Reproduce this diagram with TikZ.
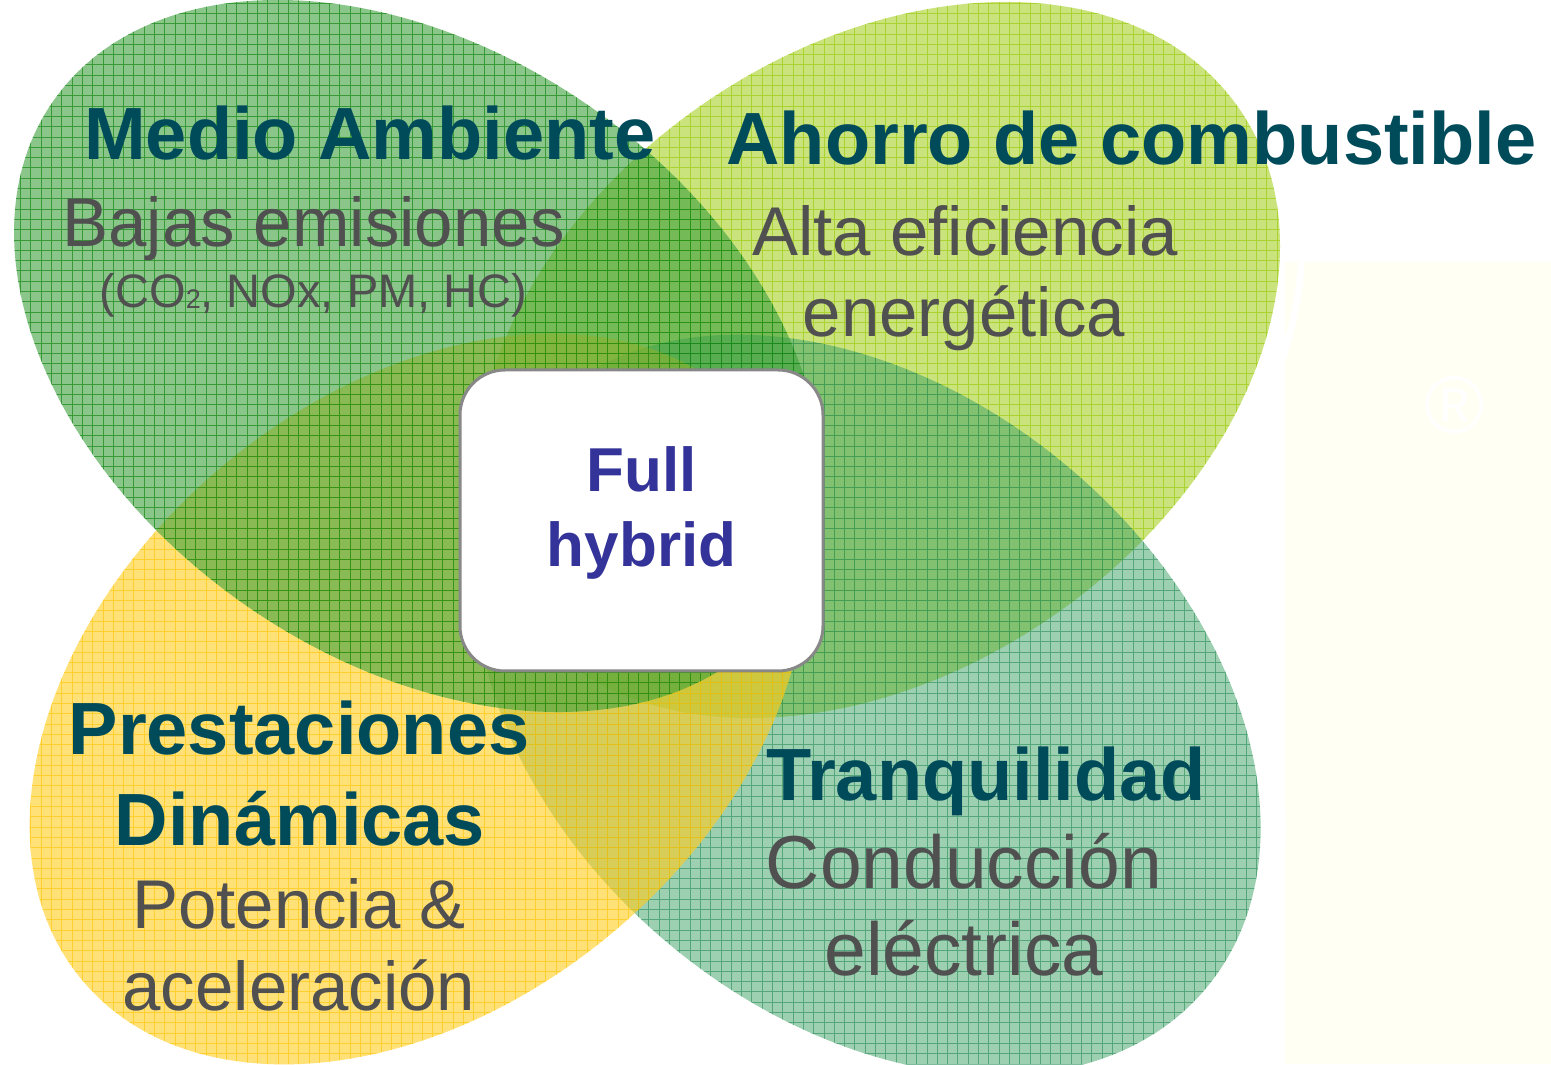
\documentclass[tikz,border=0pt]{standalone}
\usepackage{fontspec}
\setmainfont{Liberation Sans}
\definecolor{tlfill}{RGB}{60,160,60}
\definecolor{tlgrid}{RGB}{0,125,0}
\definecolor{trfill}{RGB}{160,205,20}
\definecolor{trgrid}{RGB}{150,200,0}
\definecolor{blfill}{RGB}{255,205,30}
\definecolor{blgrid}{RGB}{255,195,0}
\definecolor{brfill}{RGB}{60,160,100}
\definecolor{brgrid}{RGB}{40,140,90}
\definecolor{titleteal}{RGB}{0,75,90}
\definecolor{subgray}{RGB}{80,80,80}
\definecolor{hybblue}{RGB}{51,51,153}
\definecolor{boxgray}{RGB}{136,136,136}
\definecolor{creambg}{RGB}{255,255,243}
\tikzset{
  gridline/.style={line width=0.9bp,opacity=.6,step=10.3bp},
  titletext/.style={anchor=base,inner sep=0pt,text=titleteal,font=\fontsize{74bp}{74bp}\selectfont\bfseries},
  subtext/.style={anchor=base,inner sep=0pt,text=subgray,font=\fontsize{69bp}{69bp}\selectfont},
  bigsubtext/.style={subtext,font=\fontsize{75bp}{75bp}\selectfont},
  smalltext/.style={anchor=base,inner sep=0pt,text=subgray,font=\fontsize{47bp}{47bp}\selectfont},
  hybridbox/.style={draw=boxgray,line width=3bp,fill=white,rounded corners=45bp,
    minimum width=363bp,minimum height=301bp,inner sep=0pt,align=center,text depth=27bp,
    text=hybblue,font=\fontsize{62bp}{75bp}\selectfont\bfseries},
}
\begin{document}
\begin{tikzpicture}[x=1bp,y=1bp,line join=bevel]
\clip (0,0) rectangle (1551,1064);
\fill[white] (0,0) rectangle (1551,1064);
\fill[creambg] (1285,0) rectangle (1551,802);
\draw[white,line width=7bp,rotate around={35:(878,704)}] (878,704) ellipse [x radius=462bp,y radius=332bp];
\draw[white,line width=7bp,rotate around={-40:(868,359)}] (868,359) ellipse [x radius=463bp,y radius=333bp];
\node (regmark) at (1455,659) [text=white,font=\fontsize{82bp}{82bp}\selectfont] {®};
%% Ahorro de combustible
\begin{scope}
  \clip[rotate around={35:(878,704)}] (878,704) ellipse [x radius=440bp,y radius=310bp];
  \fill[trfill,opacity=.55] (0,0) rectangle (1551,1064);
  \draw[trgrid,gridline] (0,0) grid (1551,1064);
\end{scope}
%% Tranquilidad
\begin{scope}
  \clip[rotate around={-40:(868,359)}] (868,359) ellipse [x radius=441bp,y radius=311bp];
  \fill[brfill,opacity=.5] (0,0) rectangle (1551,1064);
  \draw[brgrid,gridline] (0,0) grid (1551,1064);
\end{scope}
%% Prestaciones Dinamicas
\begin{scope}
  \clip[rotate around={40:(418,365)}] (418,365) ellipse [x radius=438bp,y radius=304bp];
  \fill[blfill,opacity=.6] (0,0) rectangle (1551,1064);
  \draw[blgrid,gridline] (0,0) grid (1551,1064);
\end{scope}
%% Medio Ambiente
\begin{scope}
  \clip[rotate around={-35:(418,708)}] (418,708) ellipse [x radius=445bp,y radius=303bp];
  \fill[tlfill,opacity=.6] (0,0) rectangle (1551,1064);
  \draw[tlgrid,gridline] (0,0) grid (1551,1064);
\end{scope}
%% texts
\node (medio) at (370,904) [titletext] {Medio Ambiente};
\node (bajas) at (313.5,817) [subtext] {Bajas emisiones};
\node (gases) at (313.5,756) [smalltext] {(CO\raisebox{-1bp}{\fontsize{27bp}{27bp}\selectfont 2}, NOx, PM, HC)};
\node (ahorro) at (1131.5,899) [titletext] {Ahorro de combustible};
\node (alta) at (965,808) [subtext] {Alta eficiencia};
\node (energ) at (964,727) [subtext] {energética};
\node (prest) at (299,309) [titletext] {Prestaciones};
\node (dinam) at (300,219) [titletext] {Dinámicas};
\node (poten) at (299,136) [subtext] {Potencia \&};
\node (acel) at (299,54) [subtext] {aceleración};
\node (tranq) at (986,264) [titletext] {Tranquilidad};
\node (conduc) at (964,176) [bigsubtext] {Conducción};
\node (electr) at (964,89) [bigsubtext] {eléctrica};
\node (hybrid) at (641.5,543.5) [hybridbox] {Full\\hybrid};
%
\end{tikzpicture}
\end{document}
